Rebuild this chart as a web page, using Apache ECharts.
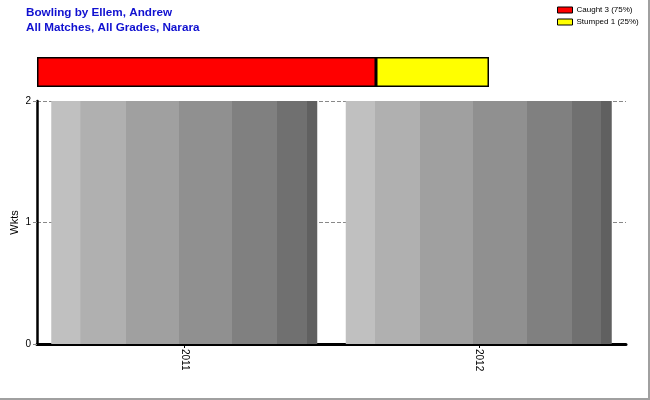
<!DOCTYPE html>
<html><head><meta charset="utf-8">
<script src="https://cdn.jsdelivr.net/npm/echarts@6/dist/echarts.min.js"></script>
<style>
html,body{margin:0;padding:0;background:#fff;}
#c{width:648px;height:398px;border-right:2px solid #a0a0a0;border-bottom:2px solid #a0a0a0;}
</style></head>
<body><div id="c"></div>
<script>
var titleLines = ['Bowling by Ellem, Andrew', 'All Matches, All Grades, Narara'];
var years = ['2011', '2012'];
var wickets = [2, 2];
var yTicks = {min: 0, max: 2, interval: 1};
var dismissalNames = ['Caught 3 (75%)', 'Stumped 1 (25%)'];
var dismissalCounts = [3, 1];
var dismissalColors = ['#ff0000', '#ffff00'];

var bandStops = [0, 0.11, 0.28, 0.48, 0.68, 0.85, 0.96, 1];
var bandColors = ['#c0c0c0', '#b0b0b0', '#a0a0a0', '#909090', '#808080', '#707070', '#606060'];
var stops = [];
for (var i = 0; i < bandColors.length; i++) {
  stops.push({offset: bandStops[i], color: bandColors[i]});
  stops.push({offset: bandStops[i + 1] - 0.0001, color: bandColors[i]});
}
var grad = new echarts.graphic.LinearGradient(0, 0, 1, 0, stops);

var chart = echarts.init(document.getElementById('c'), null, {renderer: 'canvas'});
var font = 'Liberation Sans, Arial, sans-serif';
var totalDis = dismissalCounts.reduce(function(a, b) { return a + b; }, 0);

var series = [{
  type: 'bar', xAxisIndex: 0, yAxisIndex: 0,
  data: wickets, barWidth: 266,
  itemStyle: {color: grad}, silent: true
}];
dismissalNames.forEach(function(n, i) {
  series.push({
    type: 'bar', name: n, xAxisIndex: 1, yAxisIndex: 1, stack: 'd',
    data: [dismissalCounts[i]], barWidth: 30,
    itemStyle: {color: dismissalColors[i], borderColor: '#000', borderWidth: 1.5}
  });
});

chart.setOption({
  animation: false,
  backgroundColor: '#fff',
  title: {
    text: titleLines.join('\n'), left: 26, top: 5, padding: 0,
    textStyle: {color: '#1010d0', fontSize: 11.7, fontWeight: 'bold', fontFamily: font, lineHeight: 15}
  },
  legend: {
    data: dismissalNames, orient: 'vertical', left: 557, top: 6, padding: 0,
    icon: 'rect',
    itemWidth: 15, itemHeight: 6, itemGap: 4,
    textStyle: {fontSize: 8, fontFamily: font, color: '#000', padding: [0, 0, 0, -1]},
    itemStyle: {borderColor: '#000', borderWidth: 1}
  },
  grid: [
    {left: 37, right: 22, top: 101, bottom: 54, containLabel: false, outerBoundsMode: 'none'},
    {left: 37, width: 452, top: 57, height: 30, outerBoundsMode: 'none'}
  ],
  xAxis: [{
    type: 'category', data: years, gridIndex: 0,
    axisLine: {lineStyle: {color: '#000', width: 3}},
    axisTick: {show: true, alignWithLabel: true, length: 4, lineStyle: {color: '#000', width: 1}},
    axisLabel: {rotate: -90, fontSize: 10, fontFamily: font, color: '#000', margin: 5}
  }, {
    type: 'value', gridIndex: 1, min: 0, max: totalDis, show: false
  }],
  yAxis: [{
    type: 'value', gridIndex: 0, min: yTicks.min, max: yTicks.max, interval: yTicks.interval,
    name: 'Wkts', nameLocation: 'middle', nameGap: 17, nameRotate: 90, nameMoveOverlap: false,
    nameTextStyle: {fontSize: 11, fontFamily: font, color: '#000'},
    axisLine: {show: true, lineStyle: {color: '#000', width: 2.5}},
    axisTick: {show: true, length: 5, lineStyle: {color: '#888', type: 'dashed'}},
    axisLabel: {fontSize: 10, fontFamily: font, color: '#000', margin: 6},
    splitLine: {show: true, lineStyle: {color: '#888', type: 'dashed', width: 1}}
  }, {
    type: 'category', gridIndex: 1, data: ['d'], show: false
  }],
  series: series
});
</script></body></html>
